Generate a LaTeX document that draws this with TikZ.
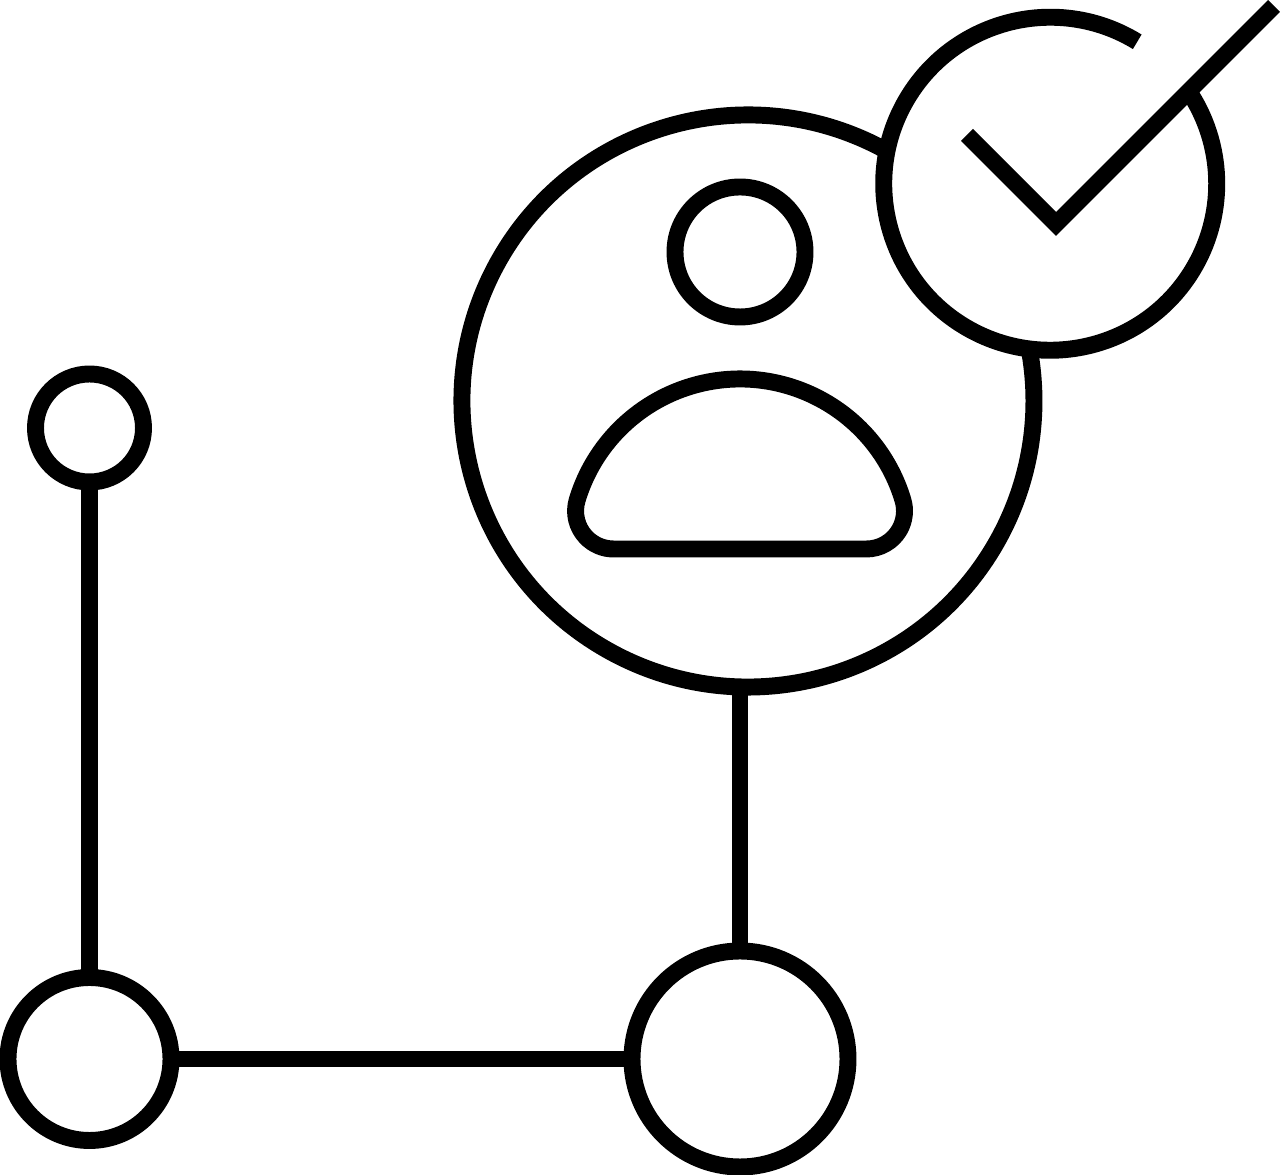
\documentclass[tikz,border=0pt]{standalone}
\usepackage{tikz}
\tikzset{
    ring/.style={draw=black,line width=9.64pt,circle,inner sep=0pt,outer sep=0pt,minimum size=#1},
    hidden/.style={circle,inner sep=0pt,outer sep=0pt,minimum size=#1},
    stroke/.style={black,line width=9.64pt}
}
\begin{document}
\begin{tikzpicture}
    \useasboundingbox (0,0) rectangle (25.6,23.5);

    \node[ring=2.16cm] (leaf) at (1.79,14.94) {};
    \node[ring=3.26cm] (corner) at (1.79,2.32) {};
    \node[ring=4.32cm] (hub) at (14.8,2.32) {};
    \node[ring=2.6cm] (head) at (14.8,18.46) {};

    \node[hidden=11.44cm] (face) at (14.96,15.48) {};
    \node[hidden=6.66cm] (badge) at (20.98,19.84) {};
    \coordinate (bodyl) at (12.27,12.52);
    \coordinate (bodyr) at (17.33,12.52);
    \coordinate (tickl) at (19.34,20.8);
    \coordinate (tickm) at (21.12,19.02);
    \coordinate (tickr) at (25.48,23.38);

    % broken outlines
    \draw[stroke] (face.62) arc[start angle=62,end angle=369.4,radius=5.72];
    \draw[stroke] (badge.58.5) arc[start angle=58.5,end angle=391.8,radius=3.33];

    % body
    \draw[stroke,line join=round] (bodyl) -- (bodyr)
        arc[start angle=270,end angle=376.76,radius=0.76]
        arc[start angle=16.76,end angle=163.24,radius=3.4018]
        arc[start angle=163.24,end angle=270,radius=0.76] -- cycle;

    \draw[stroke] (tickl) -- (tickm) -- (tickr);

    \path
    (leaf) [stroke] edge (corner)
    (corner) [stroke] edge (hub)
    (hub) [stroke] edge (hub |- face.south);
\end{tikzpicture}
\end{document}
